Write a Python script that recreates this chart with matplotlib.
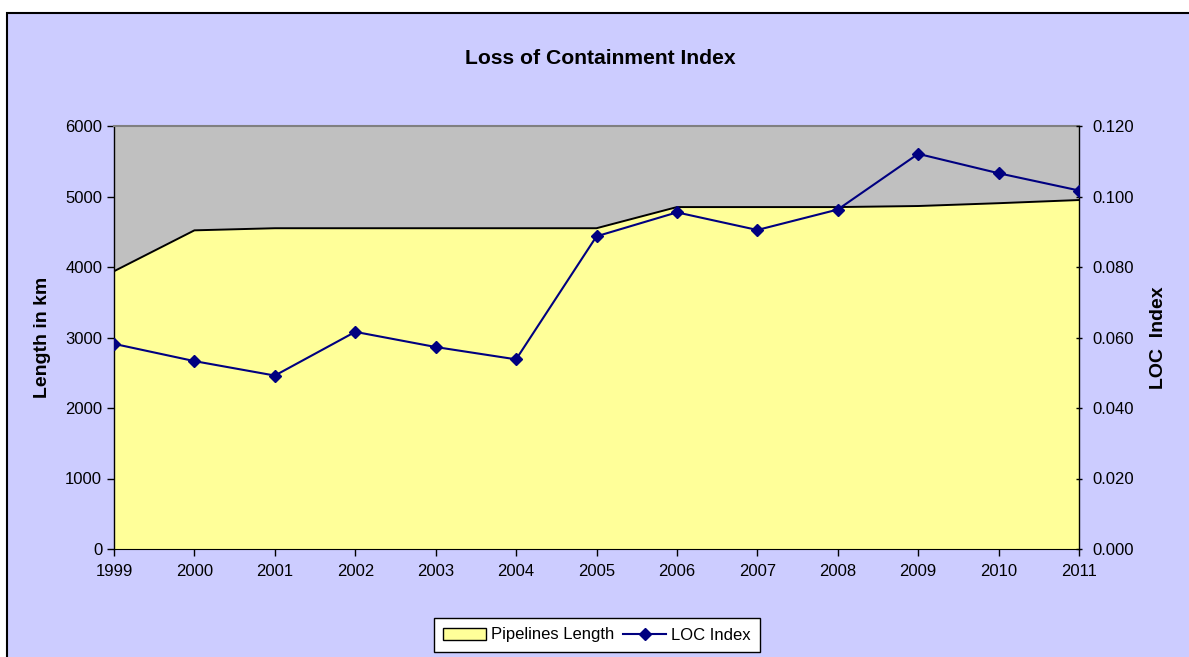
import matplotlib.pyplot as plt
from matplotlib.patches import Patch, Rectangle
from matplotlib.lines import Line2D

plt.rcParams['font.family'] = ['Liberation Sans', 'DejaVu Sans']

# ---- data ----
years = [1999, 2000, 2001, 2002, 2003, 2004, 2005, 2006, 2007, 2008, 2009, 2010, 2011]
pipeline_km = [3940, 4520, 4550, 4550, 4550, 4550, 4550, 4850, 4850, 4850, 4865, 4905, 4950]
loc_index = [0.0582, 0.0533, 0.0492, 0.0616, 0.0573, 0.0538, 0.0887, 0.0955, 0.0905,
             0.0963, 0.1121, 0.1066, 0.1017]
left_ticks = [0, 1000, 2000, 3000, 4000, 5000, 6000]
right_ticks = [0.0, 0.02, 0.04, 0.06, 0.08, 0.10, 0.12]

BG = '#CCCCFF'
PLOT_BG = '#C0C0C0'
AREA = '#FFFF99'
NAVY = '#000080'

fig = plt.figure(figsize=(11.89, 6.57), dpi=100)
fig.patch.set_facecolor('white')
# chart-area frame (starts a little inside the image, runs past right/bottom)
fig.patches.append(Rectangle((7 / 1189, -0.05), 1.1, 1 - 13 / 657 + 0.05,
                             transform=fig.transFigure, facecolor=BG,
                             edgecolor='black', linewidth=1.5, zorder=-10))

ax = fig.add_axes([114 / 1189, 1 - 549 / 657, 965 / 1189, 423 / 657])
ax.set_facecolor(PLOT_BG)
ax.fill_between(years, pipeline_km, 0, facecolor=AREA, edgecolor='none', zorder=1)
ax.plot(years, pipeline_km, color='black', linewidth=1.4, zorder=2)
ax.set_xlim(years[0], years[-1])
ax.set_ylim(0, 6000)
ax.set_yticks(left_ticks)
ax.set_xticks(years)
ax.tick_params(axis='both', labelsize=12, length=5, width=1, direction='out', color='black')
ax.tick_params(axis='x', pad=6)
ax.set_ylabel('Length in km', fontsize=14, fontweight='bold', labelpad=10)

for s in ['left', 'right']:
    ax.spines[s].set_color('black')
    ax.spines[s].set_linewidth(1.0)
ax.spines['top'].set_color('#808080')
ax.spines['top'].set_linewidth(1.5)
ax.spines['bottom'].set_color('black')

ax2 = ax.twinx()
ax2.plot(years, loc_index, color=NAVY, linewidth=1.5, marker='D', markersize=6,
         markerfacecolor=NAVY, markeredgecolor=NAVY, zorder=3)
ax2.set_ylim(0, 0.12)
ax2.set_yticks(right_ticks)
ax2.set_yticklabels([f'{v:.3f}' for v in right_ticks])
ax2.tick_params(axis='y', labelsize=12, length=5, width=1, direction='inout', color='black',
                pad=7)
ax2.set_ylabel('LOC  Index', fontsize=14, fontweight='bold', labelpad=12)
for s in ax2.spines.values():
    s.set_visible(False)

fig.text(600 / 1189, 1 - 58 / 657, 'Loss of Containment Index', ha='center', va='center',
         fontsize=15.2, fontweight='bold')

handles = [Patch(facecolor=AREA, edgecolor='black', linewidth=1),
           Line2D([0], [0], color=NAVY, linewidth=1.5, marker='D', markersize=6)]
leg = fig.legend(handles, ['Pipelines Length', 'LOC Index'], loc='center',
                 bbox_to_anchor=(597 / 1189, 1 - 635 / 657), ncol=2, fontsize=12,
                 frameon=True, fancybox=False, edgecolor='black', framealpha=1,
                 handlelength=2.6, handletextpad=0.3, columnspacing=0.5,
                 borderpad=0.55)
leg.get_frame().set_linewidth(1)

fig.savefig('out.png', dpi=100, facecolor=fig.get_facecolor())
